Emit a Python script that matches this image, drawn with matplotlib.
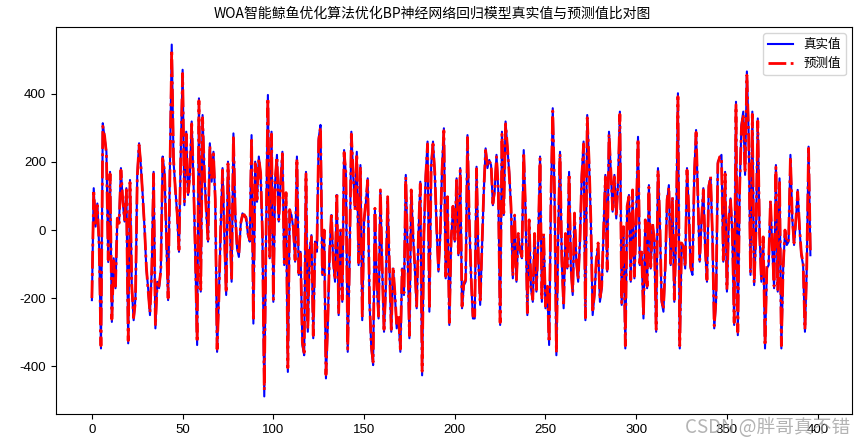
import matplotlib
matplotlib.use("Agg")
import matplotlib.pyplot as plt

plt.rcParams['font.family'] = ['Noto Sans CJK SC', 'DejaVu Sans']
plt.rcParams['axes.unicode_minus'] = False

title = "WOA智能鲸鱼优化算法优化BP神经网络回归模型真实值与预测值比对图"
label_true = "真实值"
label_pred = "预测值"
xticks = [0, 50, 100, 150, 200, 250, 300, 350, 400]
yticks = [-400, -200, 0, 200, 400]

true_vals = [
    -206, 123, 10, 78, -50, -348, 314, 270, 230, -94,
    171, -270, -83, -171, 29, 25, 182, 83, 25, 123,
    -333, 147, -171, -265, -201, 162, 255, 186, 103, 5,
    -113, -171, -250, -113, 171, -289, -152, -171, -113, 216,
    171, -15, -206, 182, 545, 201, 123, 44, -64, 230,
    471, 73, 289, 103, 162, 319, 142, -74, -338, 387,
    -181, 338, 162, 64, -34, 255, 142, 230, 83, -358,
    -191, 5, 182, -15, -191, 201, 25, -152, 284, 44,
    -54, -79, 15, 49, 39, 39, -15, -34, 279, -275,
    201, 83, 216, 162, -15, -489, -15, 397, -83, 289,
    -211, 142, 221, 25, 142, 230, -103, 103, -417, 54,
    44, 5, -93, 216, -132, -64, -338, -368, 171, -299,
    -64, -15, -318, -34, -64, 270, 309, -132, -5, -436,
    -279, -64, 44, -93, -152, 103, -250, -5, -211, 235,
    162, -358, -93, 289, 162, 64, 230, -103, 191, -265,
    25, 80, 152, -211, -348, -397, 59, -152, -260, 113,
    -113, -299, -171, 93, -113, -299, -113, -191, -289, -260,
    -358, -113, -191, 162, -64, -318, 113, -15, -113, -230,
    -15, 142, -427, -15, 162, 260, -240, 191, 260, 162,
    5, -122, -15, 182, 299, -142, 93, -279, -34, 64,
    -34, 152, -74, 182, -230, -162, -152, 279, 25, -142,
    -260, -260, 186, -83, -220, -54, 113, 240, 182, 206,
    191, 73, 113, 221, 113, -279, 289, 44, 319, 240,
    171, 64, -142, 39, -152, -15, -64, -83, 235, 54,
    -250, 25, -171, -211, -15, -181, -34, 216, -211, -15,
    -230, -171, -338, 83, 358, 103, -368, -15, 230, -93,
    -230, -15, -113, 171, -113, -191, 44, -93, -152, -34,
    162, 260, -265, 338, 201, 25, -250, -191, -93, -44,
    -211, -171, -5, 162, -122, 289, 171, 54, 162, 34,
    142, 348, -220, 5, -348, 64, 103, -152, 113, -142,
    25, 274, -103, -64, -260, 25, -171, 132, -113, 15,
    -34, -299, 182, 25, -211, -240, -113, 83, 132, -103,
    93, -211, -15, 402, -348, -44, -54, -113, 182, 54,
    -113, -132, 162, 294, 93, -93, 25, 123, -54, -152,
    132, 152, -15, -289, -211, 201, 211, 221, -93, 171,
    -181, 25, 93, -15, -279, 377, -309, 113, 309, 348,
    162, 466, 279, -132, 348, -162, -15, 328, -15, -152,
    -25, -348, -113, -103, 83, -54, -171, 191, -181, 152,
    -348, -113, -5, -44, -34, 221, 34, -44, 25, 118,
    5, -74, -103, -299, -113, 245, -74,
]

pred_vals = [
    -200, 118, 14, 72, -44, -340, 305, 276, 224, -88,
    165, -262, -90, -165, 35, 20, 176, 90, 30, 118,
    -325, 140, -165, -258, -208, 155, 250, 192, 98, 10,
    -108, -178, -243, -120, 165, -282, -158, -165, -120, 210,
    176, -10, -200, 176, 530, 208, 118, 50, -58, 224,
    460, 80, 282, 110, 156, 312, 148, -68, -330, 380,
    -175, 330, 168, 58, -28, 248, 148, 224, 90, -350,
    -198, 10, 176, -10, -185, 195, 30, -146, 278, 50,
    -48, -72, 20, 44, 45, 34, -10, -28, 272, -268,
    195, 90, 210, 168, -10, -470, -10, 388, -78, 282,
    -204, 148, 215, 30, 136, 224, -96, 110, -405, 60,
    38, 10, -88, 210, -126, -70, -330, -360, 165, -292,
    -58, -20, -310, -40, -58, 263, 302, -126, 0, -425,
    -272, -70, 50, -88, -146, 110, -243, 0, -204, 228,
    168, -350, -88, 282, 168, 58, 224, -96, 185, -258,
    30, 86, 146, -204, -340, -388, 64, -146, -253, 118,
    -108, -292, -165, 98, -108, -292, -108, -185, -282, -253,
    -350, -108, -185, 156, -58, -310, 118, -10, -108, -224,
    -10, 136, -415, -10, 156, 253, -233, 185, 253, 168,
    10, -116, -10, 176, 292, -136, 98, -272, -28, 70,
    -28, 146, -68, 176, -224, -156, -146, 272, 30, -136,
    -253, -253, 180, -78, -214, -48, 118, 234, 188, 200,
    196, 78, 118, 215, 118, -272, 282, 50, 312, 246,
    165, 70, -136, 44, -146, -10, -58, -78, 228, 60,
    -243, 30, -165, -204, -10, -175, -28, 210, -204, -10,
    -224, -165, -330, 88, 350, 108, -360, -10, 224, -88,
    -224, -10, -108, 165, -108, -185, 50, -88, -146, -28,
    156, 253, -258, 330, 206, 30, -243, -185, -88, -38,
    -204, -165, 0, 156, -116, 282, 176, 60, 156, 40,
    136, 340, -214, 10, -340, 70, 98, -146, 118, -136,
    30, 268, -98, -58, -253, 30, -165, 126, -108, 20,
    -28, -292, 176, 30, -204, -233, -108, 88, 126, -98,
    98, -204, -10, 392, -340, -38, -48, -108, 176, 60,
    -108, -126, 156, 287, 98, -88, 30, 118, -48, -146,
    126, 158, -10, -282, -204, 195, 215, 215, -88, 165,
    -175, 30, 88, -10, -272, 368, -300, 118, 302, 340,
    168, 455, 272, -126, 340, -156, -10, 320, -10, -146,
    -20, -340, -108, -98, 88, -48, -165, 185, -175, 146,
    -340, -108, 0, -38, -28, 215, 40, -38, 30, 112,
    10, -68, -98, -292, -108, 240, -70,
]

x_true = list(range(len(true_vals)))
x_pred = list(range(len(pred_vals)))

fig = plt.figure(figsize=(8.65, 4.46), dpi=100)
ax = fig.add_axes([0.0644, 0.0717, 0.9206, 0.8678])
ax.plot(x_true, true_vals, color='blue', linestyle='-', linewidth=1.5, label=label_true)
ax.plot(x_pred, pred_vals, color='red', linestyle='-.', linewidth=2.0, label=label_pred)
ax.set_xlim(-19.95, 418.95)
ax.set_xticks(xticks)
ax.set_yticks(yticks)
for lab in ax.get_xticklabels() + ax.get_yticklabels():
    lab.set_fontfamily(['Liberation Sans', 'DejaVu Sans'])
    lab.set_fontsize(9.5)
ax.legend(loc='upper right', fontsize=9)

fig.text(0.5, 0.97, title, ha='center', va='center', fontsize=10)

fig.text(0.983, 0.018, "CSDN @胖哥真不错", ha='right', va='bottom',
         fontsize=13.5, color='#9a9a9a', alpha=0.75)

fig.savefig("out.png", dpi=100)
